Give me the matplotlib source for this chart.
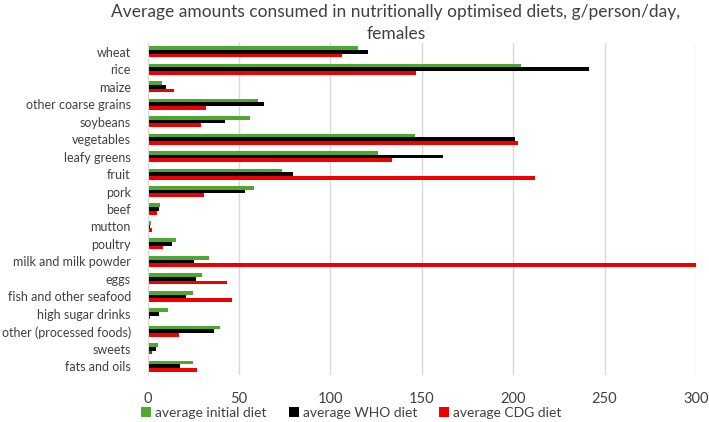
import matplotlib
matplotlib.use("Agg")
import matplotlib.pyplot as plt
import numpy as np

categories = ["wheat", "rice", "maize", "other coarse grains", "soybeans",
              "vegetables", "leafy greens", "fruit", "pork", "beef", "mutton",
              "poultry", "milk and milk powder", "eggs", "fish and other seafood",
              "high sugar drinks", "other (processed foods)", "sweets", "fats and oils"]
initial_diet = [115.2, 204.3, 8.0, 60.5, 55.9, 146.1, 126.3, 73.7, 58.3, 6.9, 1.8,
                15.7, 33.8, 29.6, 24.7, 11.2, 39.9, 5.5, 25.0]
who_diet = [120.7, 241.7, 10.1, 63.8, 42.2, 201.2, 161.5, 79.5, 53.6, 6.2, 1.5,
            13.2, 25.4, 26.3, 21.0, 6.2, 36.4, 4.6, 17.7]
cdg_diet = [106.2, 147.0, 14.3, 32.0, 29.1, 202.7, 133.8, 212.2, 31.1, 5.1, 2.4,
            8.6, 300.0, 43.3, 46.4, 1.3, 17.0, 2.7, 27.2]
series_names = ["average initial diet", "average WHO diet", "average CDG diet"]
colors = ["#4ea72e", "#000000", "#ee0000"]
xticks = [0, 50, 100, 150, 200, 250, 300]
title = "Average amounts consumed in nutritionally optimised diets, g/person/day,\nfemales"

plt.rcParams['font.family'] = ['Lato', 'DejaVu Sans']

fig = plt.figure(figsize=(7.09, 4.22), dpi=100)
ax = fig.add_axes([147.5/709, 1-375/422, (696-147.5)/709, (375-43)/422])

y = np.arange(len(categories))
h = 0.21
for i, (vals, name, c) in enumerate(zip([initial_diet, who_diet, cdg_diet], series_names, colors)):
    ax.barh(y + (i - 1) * h, vals, height=h, color=c, label=name, zorder=3)

ax.set_ylim(len(categories) - 0.5, -0.5)
ax.set_xlim(0, 300)
ax.set_xticks(xticks)
ax.set_yticks(y)
ax.set_yticklabels(categories, fontsize=9, color="#404040")
ax.tick_params(axis='x', labelsize=10.5, colors="#404040", length=0, pad=12)
ax.tick_params(axis='y', length=0, pad=12)
ax.grid(axis='x', color="#d9d9d9", linewidth=1, zorder=0)
for s in ["top", "right", "bottom"]:
    ax.spines[s].set_visible(False)
ax.spines["left"].set_color("#d9d9d9")
ax.spines["left"].set_zorder(4)

fig.text(396/709, 1-23/422, title, ha="center", va="center", fontsize=12.5,
         color="#404040", linespacing=1.45)

leg = fig.legend(loc="center", bbox_to_anchor=(351.5/709, 1-413/422), ncol=3,
                 frameon=False, fontsize=10, handlelength=0.7, handleheight=0.7,
                 handletextpad=0.3, columnspacing=1.6)
for t in leg.get_texts():
    t.set_color("#404040")

fig.savefig("out.png", dpi=100)
